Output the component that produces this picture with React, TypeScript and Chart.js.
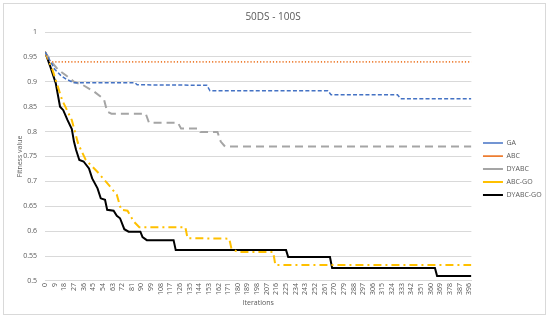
import React, { useEffect, useRef } from "react";
import { Chart, registerables } from "chart.js";

Chart.register(...registerables);

const chartTitle = "50DS - 100S";
const xTitle = "Iterations";
const yTitle = "Fitness value";

const xTickLabels = [0, 9, 18, 27, 36, 45, 54, 63, 72, 81, 90, 99, 108, 117, 126, 135, 144, 153, 162, 171, 180, 189, 198, 207, 216, 225, 234, 243, 252, 261, 270, 279, 288, 297, 306, 315, 324, 333, 342, 351, 360, 369, 378, 387, 396];
const xMax = 398;

const seriesNames = ["GA", "ABC", "DYABC", "ABC-GO", "DYABC-GO"];

const gaIter = [0, 4, 9, 15, 20, 27, 84, 86, 151, 154, 264, 267, 329, 332, 398];
const gaValue = [0.96, 0.945, 0.925, 0.912, 0.905, 0.898, 0.898, 0.894, 0.893, 0.882, 0.882, 0.874, 0.874, 0.866, 0.866];

const abcIter = [0, 3, 6, 398];
const abcValue = [0.96, 0.945, 0.94, 0.94];

const dyabcIter = [0, 6, 12, 20, 27, 35, 46, 55, 58, 62, 94, 97, 124, 127, 143, 145, 161, 164, 168, 398];
const dyabcValue = [0.96, 0.94, 0.925, 0.912, 0.9, 0.894, 0.88, 0.865, 0.84, 0.836, 0.836, 0.818, 0.818, 0.806, 0.806, 0.799, 0.799, 0.78, 0.77, 0.77];

const abcgoIter = [0, 7, 16, 25, 31, 38, 44, 49, 57, 61, 67, 71, 77, 83, 88, 131, 133, 172, 174, 180, 213, 215, 398];
const abcgoValue = [0.96, 0.924, 0.863, 0.823, 0.775, 0.743, 0.73, 0.719, 0.699, 0.689, 0.673, 0.643, 0.641, 0.619, 0.608, 0.608, 0.586, 0.585, 0.565, 0.558, 0.558, 0.532, 0.532];

const dyabcgoIter = [0, 5, 10, 14, 17, 21, 25, 27, 29, 32, 36, 41, 44, 49, 52, 56, 58, 64, 67, 70, 74, 78, 89, 91, 95, 120, 122, 225, 227, 266, 268, 364, 366, 398];
const dyabcgoValue = [0.96, 0.93, 0.897, 0.85, 0.843, 0.823, 0.805, 0.78, 0.763, 0.743, 0.74, 0.726, 0.706, 0.686, 0.666, 0.663, 0.643, 0.641, 0.631, 0.626, 0.604, 0.599, 0.599, 0.588, 0.582, 0.582, 0.562, 0.562, 0.548, 0.548, 0.526, 0.526, 0.51, 0.51];

const toPoints = (xs: number[], ys: number[]) => xs.map((x, i) => ({ x, y: ys[i] }));

const TEXT = "#595959";
const GRID = "#d9d9d9";
const FONT = "'Open Sans', sans-serif";

// nudges the legend box to where the original places it (right of the plot, lower-centred)
const legendNudge = {
  id: "legendNudge",
  afterLayout(chart: any) {
    const lg = chart.legend;
    if (!lg) return;
    const dx = 5.6;
    const dy = 15.5;
    lg.left += dx;
    lg.right += dx;
    lg.top += dy;
    lg.bottom += dy;
  },
};

export default function App() {
  const ref = useRef<HTMLCanvasElement | null>(null);

  useEffect(() => {
    if (!ref.current) return;
    const mk = (i: number, xs: number[], ys: number[], color: string, width: number, dash: number[]) => ({
      label: seriesNames[i],
      data: toPoints(xs, ys),
      borderColor: color,
      backgroundColor: color,
      borderWidth: width,
      borderDash: dash,
      pointRadius: 0,
      tension: 0,
      fill: false,
    });
    const chart: any = new Chart(ref.current, {
      type: "line",
      data: {
        datasets: [
          mk(0, gaIter, gaValue, "#4472C4", 1.5, [4, 2.2]),
          mk(1, abcIter, abcValue, "#ED7D31", 1.6, [1.2, 2]),
          mk(2, dyabcIter, dyabcValue, "#A5A5A5", 2, [8, 5]),
          mk(3, abcgoIter, abcgoValue, "#FFC000", 2, [8, 4, 2, 4]),
          mk(4, dyabcgoIter, dyabcgoValue, "#000000", 2, []),
        ],
      },
      plugins: [legendNudge],
      options: {
        responsive: false,
        animation: false,
        devicePixelRatio: 1,
        layout: { padding: { left: 0, right: 4, top: 0, bottom: 13.8 } },
        plugins: {
          tooltip: { enabled: false },
          title: {
            display: true,
            text: chartTitle,
            color: TEXT,
            font: { family: FONT, size: 10, weight: "normal" },
            padding: { top: 11, bottom: 9 },
          },
          legend: {
            position: "right",
            labels: {
              usePointStyle: true,
              pointStyle: "line",
              pointStyleWidth: 20,
              boxWidth: 20,
              color: TEXT,
              padding: 6,
              font: { family: FONT, size: 7 },
            },
          },
        },
        scales: {
          x: {
            type: "linear",
            min: 0,
            max: xMax,
            afterBuildTicks: (scale: any) => {
              scale.ticks = xTickLabels.map((v) => ({ value: v }));
            },
            grid: { display: false, drawTicks: false },
            border: { display: true, color: GRID },
            ticks: {
              autoSkip: false,
              minRotation: 90,
              maxRotation: 90,
              padding: 2,
              color: TEXT,
              font: { family: FONT, size: 7 },
            },
            title: {
              display: true,
              text: xTitle,
              color: TEXT,
              padding: { top: 1.8, bottom: 0 },
              font: { family: FONT, size: 7 },
            },
          },
          y: {
            min: 0.5,
            max: 1,
            grid: { color: GRID, drawTicks: false },
            border: { display: false },
            ticks: {
              stepSize: 0.05,
              padding: 8,
              color: TEXT,
              font: { family: FONT, size: 7 },
              callback: (v: any) => String(parseFloat(Number(v).toFixed(2))),
            },
            title: {
              display: true,
              text: yTitle,
              color: TEXT,
              padding: { top: 15.8, bottom: -9 },
              font: { family: FONT, size: 7 },
            },
          },
        },
      },
    } as any);
    return () => chart.destroy();
  }, []);

  return (
    <div style={{ position: "fixed", left: 0, top: 0, width: 550, height: 321, background: "#fff" }}>
      <div
        style={{
          position: "absolute",
          left: 3,
          top: 3,
          width: 543,
          height: 312,
          border: "1px solid #d9d9d9",
          boxSizing: "border-box",
        }}
      />
      <canvas ref={ref} width={550} height={321} style={{ position: "absolute", left: 0, top: 0, width: 550, height: 321 }} />
    </div>
  );
}
